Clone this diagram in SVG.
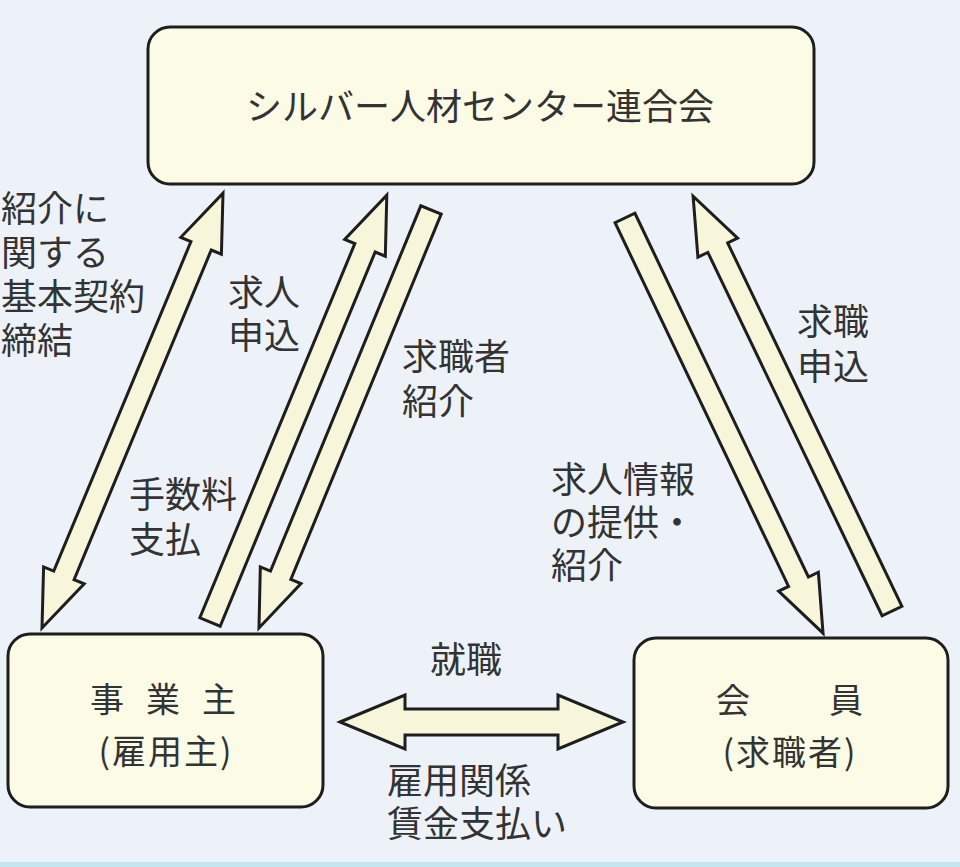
<svg xmlns="http://www.w3.org/2000/svg" width="960" height="867" viewBox="0 0 960 867">
<style>
.bg{fill:#edf2f8}
.box{fill:#fcfbe6;stroke:#1e1e1e;stroke-width:3}
.arr{fill:#f8f6da;stroke:#1e1e1e;stroke-width:3;stroke-linejoin:miter}
text{font-family:"Noto Sans CJK JP","Noto Sans CJK SC",sans-serif;fill:#333333}
.lbl{font-size:36px}
.ttl{font-size:36px}
.nd{font-size:34px}
</style>
<rect class="bg" x="0" y="0" width="960" height="867"/>
<rect x="0" y="862" width="960" height="5" fill="#c3e6ef"/>

<g id="connectors">
  <path class="arr" transform="translate(42,628) rotate(-67.4)" d="M0,0 L57,-22 V-11 H414 V-22 L471,0 L414,22 V11 H57 V22 Z"/>
  <path class="arr" transform="translate(210,622) rotate(-67.5)" d="M0,-11 H405 V-22 L462,0 L405,22 V11 H0 Z"/>
  <path class="arr" transform="translate(431,210) rotate(112.37)" d="M0,-11 H395 V-22 L452,0 L395,22 V11 H0 Z"/>
  <path class="arr" transform="translate(625,218) rotate(64.5)" d="M0,-11 H403 V-22 L460,0 L403,22 V11 H0 Z"/>
  <path class="arr" transform="translate(892,611) rotate(-115.62)" d="M0,-11 H403 V-22 L460,0 L403,22 V11 H0 Z"/>
  <path class="arr" transform="translate(340,722)" d="M0,0 L65,-27 V-13 H218 V-27 L283,0 L218,27 V13 H65 V27 Z"/>
</g>

<g id="node-federation">
  <rect class="box" x="148" y="27" width="666" height="157" rx="22" ry="22"/>
  <text class="ttl" x="480" y="120" text-anchor="middle">シルバー人材センター連合会</text>
</g>

<g id="node-employer">
  <rect class="box" x="8" y="634" width="315" height="173" rx="22" ry="22"/>
  <text class="nd" x="90" y="712">事</text>
  <text class="nd" x="146" y="712">業</text>
  <text class="nd" x="202" y="712">主</text>
  <text class="nd" x="166" y="764" text-anchor="middle" letter-spacing="2">(雇用主)</text>
</g>

<g id="node-member">
  <rect class="box" x="634" y="638" width="314" height="170" rx="22" ry="22"/>
  <text class="nd" x="716" y="713">会</text>
  <text class="nd" x="829" y="713">員</text>
  <text class="nd" x="790" y="765" text-anchor="middle" letter-spacing="2">(求職者)</text>
</g>

<g id="labels">
  <text class="lbl" x="1" y="222">紹介に</text>
  <text class="lbl" x="1" y="266">関する</text>
  <text class="lbl" x="1" y="310">基本契約</text>
  <text class="lbl" x="1" y="354">締結</text>

  <text class="lbl" x="228" y="306">求人</text>
  <text class="lbl" x="228" y="349">申込</text>

  <text class="lbl" x="402" y="370">求職者</text>
  <text class="lbl" x="402" y="415">紹介</text>

  <text class="lbl" x="129" y="508">手数料</text>
  <text class="lbl" x="129" y="553">支払</text>

  <text class="lbl" x="551" y="493">求人情報</text>
  <text class="lbl" x="551" y="536">の提供・</text>
  <text class="lbl" x="551" y="579">紹介</text>

  <text class="lbl" x="797" y="335">求職</text>
  <text class="lbl" x="797" y="380">申込</text>

  <text class="lbl" x="430" y="673">就職</text>

  <text class="lbl" x="387" y="794">雇用関係</text>
  <text class="lbl" x="387" y="837">賃金支払い</text>
</g>
</svg>
